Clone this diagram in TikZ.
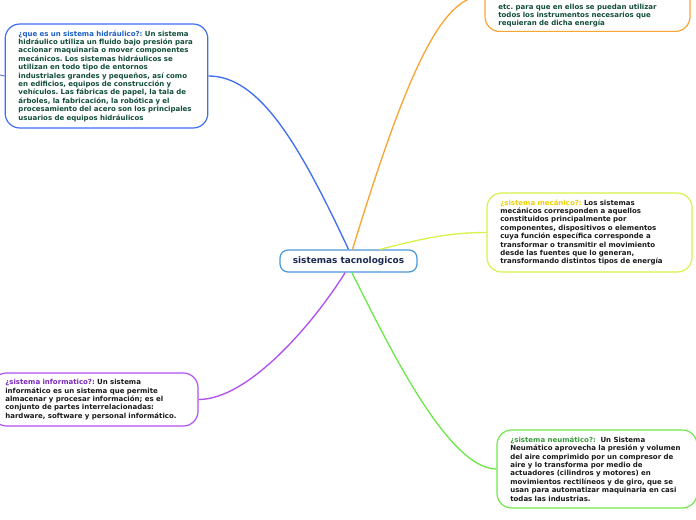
\documentclass[tikz,border=0pt]{standalone}
\usepackage{fontspec}
\setmainfont{DejaVu Sans}
\usepackage{tikz}
\usetikzlibrary{positioning}

\definecolor{azul}{HTML}{3F6FF0}
\definecolor{azultit}{HTML}{1C5FC8}
\definecolor{naranja}{HTML}{F7A535}
\definecolor{lima}{HTML}{D8F24A}
\definecolor{limatit}{HTML}{F0D000}
\definecolor{morado}{HTML}{B050F0}
\definecolor{moradotit}{HTML}{7A28B8}
\definecolor{verde}{HTML}{6EE84A}
\definecolor{verdetit}{HTML}{3A9A3A}
\definecolor{celeste}{HTML}{4A98DA}
\definecolor{marino}{HTML}{1B2A50}
\definecolor{texto}{HTML}{124D3C}
\definecolor{negro}{HTML}{1A1A1A}

\frenchspacing
\newcommand\cuerpo{\fontsize{5.25}{6.3}\selectfont\bfseries}

\begin{document}
\begin{tikzpicture}[x=0.75pt,y=0.75pt,
				rama/.style={
						draw,
						fill=white,
						rounded corners=11pt,
						line width=0.9pt,
						align=left,
						inner xsep=10pt,
						inner ysep=3pt,
						font=\cuerpo},
				enlace/.style={line width=1pt}]

			\clip (0,0) rectangle (696,-520);

			% nodo central
			\node (centro) [draw=celeste, fill=white, line width=0.9pt, rounded corners=6pt,
				minimum width=102.75pt, minimum height=16.5pt, text=marino,
				font=\fontsize{6.7}{8}\selectfont\bfseries] at (348.5,-261) {sistemas tacnologicos};

			% ramas
			\node (hidra) [rama, draw=azul, text=texto, text width=132pt, minimum height=78pt]
				at (106.5,-76) {{\color{azultit}¿que es un sistema hidráulico?:} Un sistema\\
				hidráulico utiliza un fluido bajo presión para\\
				accionar maquinaria o mover componentes\\
				mecánicos. Los sistemas hidráulicos se\\
				utilizan en todo tipo de entornos\\
				industriales grandes y pequeños, así como\\
				en edificios, equipos de construcción y\\
				vehículos. Las fábricas de papel, la tala de\\
				árboles, la fabricación, la robótica y el\\
				procesamiento del acero son los principales\\
				usuarios de equipos hidráulicos};
			\node (energia) [rama, draw=naranja, text=texto, text width=133.75pt, anchor=south]
				at (587.5,-32) {\rule{0pt}{34pt}etc. para que en ellos se puedan utilizar\\
				todos los instrumentos necesarios que\\
				requieran de dicha energía};
			\node (mecanico) [rama, draw=lima, text=negro, text width=133.75pt, minimum height=59.25pt]
				at (589.5,-232.5) {{\color{limatit}¿sistema mecánico?:} Los sistemas\\
				mecánicos corresponden a aquellos\\
				constituidos principalmente por\\
				componentes, dispositivos o elementos\\
				cuya función específica corresponde a\\
				transformar o transmitir el movimiento\\
				desde las fuentes que lo generan,\\
				transformando distintos tipos de energía};
			\node (info) [rama, draw=morado, text=negro, text width=134.5pt, minimum height=39.75pt]
				at (95,-399.5) {{\color{moradotit}¿sistema informatico?:} Un sistema\\
				informático es un sistema que permite\\
				almacenar y procesar información; es el\\
				conjunto de partes interrelacionadas:\\
				hardware, software y personal informático.};
			\node (neumatico) [rama, draw=verde, text=negro, text width=130pt, minimum height=58.5pt]
				at (597,-469) {{\color{verdetit}¿sistema neumático?:}\ \ Un Sistema\\
				Neumático aprovecha la presión y volumen\\
				del aire comprimido por un compresor de\\
				aire y lo transforma por medio de\\
				actuadores (cilindros y motores) en\\
				movimientos rectilíneos y de giro, que se\\
				usan para automatizar maquinaria en casi\\
				todas las industrias.};

			\coordinate (borde) at (0,-75);

			% conectores
			\draw[enlace, azul] (centro.north) .. controls +(115:120) and +(0:50) .. (hidra.east);
			\draw[enlace, naranja] ([xshift=3pt]centro.north) .. controls +(73:200) and +(180:40) .. (energia.west);
			\draw[enlace, lima] ([xshift=23.5pt]centro.north) .. controls +(14:40) and +(180:40) .. (mecanico.west);
			\draw[enlace, morado] ([xshift=-2.5pt]centro.south) .. controls +(238:60) and +(0:50) .. (info.east);
			\draw[enlace, verde] ([xshift=2.5pt]centro.south) .. controls +(-63:70) and +(180:50) .. (neumatico.west);
			\draw[azul!70!gray, line width=0.7pt] (hidra.west) -- (borde);

		\end{tikzpicture}
\end{document}
